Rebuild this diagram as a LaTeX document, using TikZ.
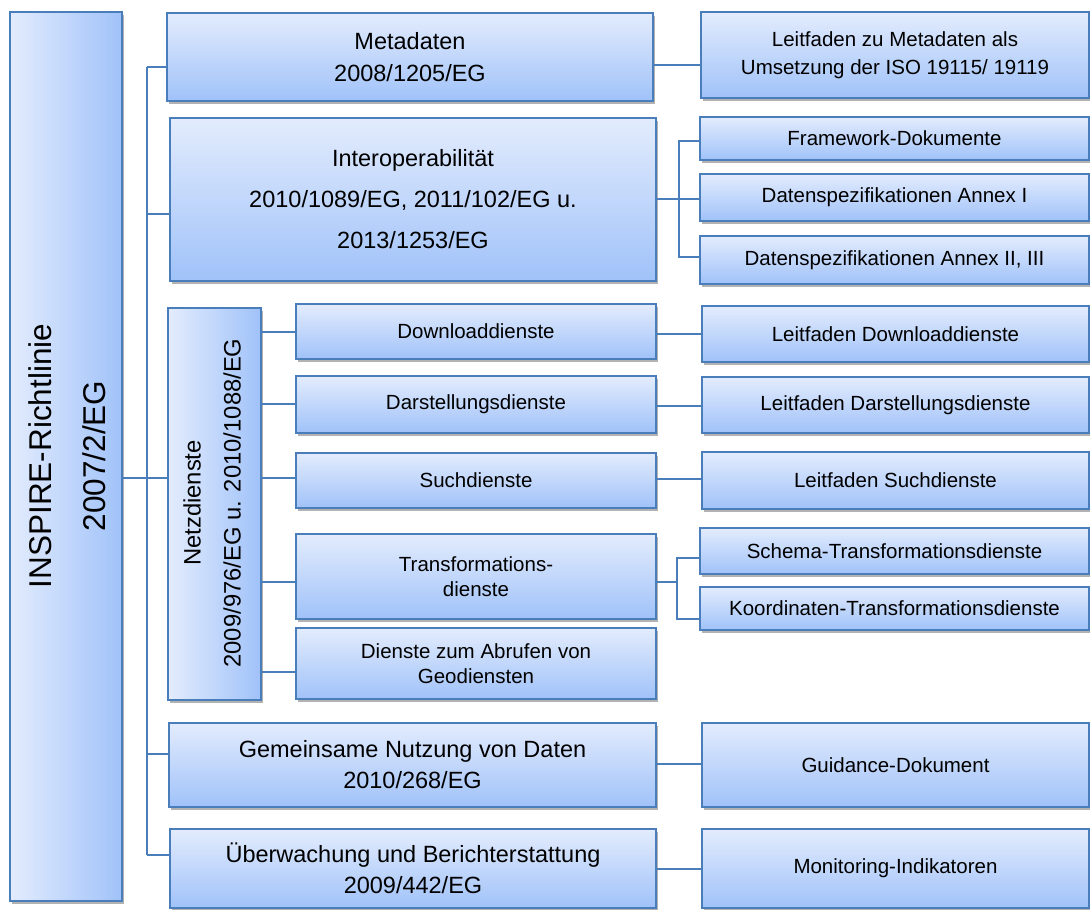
\documentclass[tikz,border=0pt]{standalone}
\usepackage{fontspec}
\setmainfont{Liberation Sans}
\usetikzlibrary{shadows}
\definecolor{bord}{RGB}{74,126,187}
\definecolor{gtop}{RGB}{227,236,253}
\definecolor{gbot}{RGB}{160,194,249}
\definecolor{conncol}{RGB}{74,126,187}
\tikzset{
  box/.style={draw=bord, line width=1.8pt, top color=gtop, bottom color=gbot,
    drop shadow={shadow xshift=1.5pt, shadow yshift=-3pt, opacity=0.3, fill=black},
    align=center, inner sep=0pt},
  vbox/.style={draw=bord, line width=1.8pt, left color=gtop, right color=gbot,
    drop shadow={shadow xshift=1.5pt, shadow yshift=-3pt, opacity=0.3, fill=black},
    inner sep=0pt},
  bigtxt/.style={font=\fontsize{23.5}{32}\selectfont},
  smalltxt/.style={font=\fontsize{20.5}{26}\selectfont},
  conn/.style={draw=conncol, line width=2pt},
}
\begin{document}
\begin{tikzpicture}[x=1pt,y=-1pt]
\useasboundingbox (0,0) rectangle (1090,910);
% left column
\node[vbox, minimum width=112pt, minimum height=889pt] (inspire) at (66,456.5) {};
\node[rotate=90, align=center, font=\fontsize{31.5}{54}\selectfont] (inspiretxt) at (67,456) {INSPIRE-Richtlinie\\2007/2/EG};
% second column
\node[box, bigtxt, minimum width=486pt, minimum height=88pt] (meta) at (410,57) {Metadaten\\2008/1205/EG};
\node[box, font=\fontsize{23.5}{41}\selectfont, minimum width=486pt, minimum height=163pt] (interop) at (413,199.5) {Interoperabilität\\2010/1089/EG, 2011/102/EG u.\\2013/1253/EG};
\node[vbox, minimum width=93pt, minimum height=392pt] (netz) at (214.5,504) {};
\node[rotate=90, align=center, font=\fontsize{23.8}{40}\selectfont] (netztxt) at (212,503) {Netzdienste\\2009/976/EG u. 2010/1088/EG};
\node[box, font=\fontsize{23.5}{31}\selectfont, minimum width=487pt, minimum height=84pt] (gemein) at (412.5,765) {Gemeinsame Nutzung von Daten\\2010/268/EG};
\node[box, font=\fontsize{23.5}{31}\selectfont, minimum width=486pt, minimum height=79pt] (ueber) at (413,868.5) {Überwachung und Berichterstattung\\2009/442/EG};
% Netzdienste children
\node[box, smalltxt, minimum width=360pt, minimum height=55pt] (down) at (476,331.5) {Downloaddienste};
\node[box, smalltxt, minimum width=360pt, minimum height=57pt] (darst) at (476,404.5) {Darstellungsdienste};
\node[box, smalltxt, minimum width=360pt, minimum height=55pt] (such) at (476,480.5) {Suchdienste};
\node[box, font=\fontsize{20.5}{25}\selectfont, minimum width=360pt, minimum height=85pt] (trans) at (476,576.5) {Transformations-\\dienste};
\node[box, font=\fontsize{20.5}{25}\selectfont, minimum width=360pt, minimum height=71pt] (abruf) at (476,663.5) {Dienste zum Abrufen von\\Geodiensten};
% right column
\node[box, font=\fontsize{20.5}{28}\selectfont, minimum width=388pt, minimum height=86pt] (lmeta) at (895,55) {Leitfaden zu Metadaten als\\Umsetzung der ISO 19115/ 19119};
\node[box, smalltxt, minimum width=389pt, minimum height=43pt] (frame) at (894.5,138.5) {Framework-Dokumente};
\node[box, smalltxt, minimum width=389pt, minimum height=47pt] (annexa) at (894.5,197.5) {Datenspezifikationen Annex I};
\node[box, smalltxt, minimum width=389pt, minimum height=48pt] (annexb) at (894.5,260) {Datenspezifikationen Annex II, III};
\node[box, smalltxt, minimum width=387pt, minimum height=56pt] (ldown) at (895.5,334) {Leitfaden Downloaddienste};
\node[box, smalltxt, minimum width=387pt, minimum height=56pt] (ldarst) at (895.5,405) {Leitfaden Darstellungsdienste};
\node[box, smalltxt, minimum width=387pt, minimum height=57pt] (lsuch) at (895.5,480.5) {Leitfaden Suchdienste};
\node[box, smalltxt, minimum width=389pt, minimum height=46pt] (schema) at (894.5,551) {Schema-Transformationsdienste};
\node[box, smalltxt, minimum width=389pt, minimum height=43pt] (koord) at (894.5,608.5) {Koordinaten-Transformationsdienste};
\node[box, smalltxt, minimum width=387pt, minimum height=84pt] (guid) at (895.5,765) {Guidance-Dokument};
\node[box, smalltxt, minimum width=387pt, minimum height=79pt] (monit) at (895.5,868.5) {Monitoring-Indikatoren};
% junction coordinates
\coordinate (ta) at (147,67);
\coordinate (tb) at (147,214);
\coordinate (tc) at (147,478);
\coordinate (td) at (147,754);
\coordinate (te) at (147,855);
\coordinate (ij) at (679,199);
\coordinate (tj) at (677,582);
% connectors
\draw[conn] (ta) -- (te);
\draw[conn] (inspire.east |- tc) -- (netz.west |- tc);
\draw[conn] (ta) -- (meta.west |- ta);
\draw[conn] (tb) -- (interop.west |- tb);
\draw[conn] (td) -- (gemein.west |- td);
\draw[conn] (te) -- (ueber.west |- te);
\draw[conn] (meta.east |- 0,65) -- (lmeta.west |- 0,65);
\draw[conn] (interop.east |- ij) -- (ij);
\draw[conn] (frame.west |- 0,141) -| (ij |- 0,141) -- (ij |- 0,257) -- (annexb.west |- 0,257);
\draw[conn] (ij) -- (annexa.west |- ij);
\draw[conn] (netz.east |- 0,332) -- (down.west |- 0,332);
\draw[conn] (netz.east |- 0,404) -- (darst.west |- 0,404);
\draw[conn] (netz.east |- 0,478) -- (such.west |- 0,478);
\draw[conn] (netz.east |- tj) -- (trans.west |- tj);
\draw[conn] (netz.east |- 0,672) -- (abruf.west |- 0,672);
\draw[conn] (down.east |- 0,334) -- (ldown.west |- 0,334);
\draw[conn] (darst.east |- 0,406) -- (ldarst.west |- 0,406);
\draw[conn] (such.east |- 0,479) -- (lsuch.west |- 0,479);
\draw[conn] (trans.east |- tj) -- (tj);
\draw[conn] (schema.west |- 0,558) -| (tj |- 0,558) -- (tj |- 0,619) -- (koord.west |- 0,619);
\draw[conn] (gemein.east |- 0,764) -- (guid.west |- 0,764);
\draw[conn] (ueber.east |- 0,869) -- (monit.west |- 0,869);
\end{tikzpicture}
\end{document}
